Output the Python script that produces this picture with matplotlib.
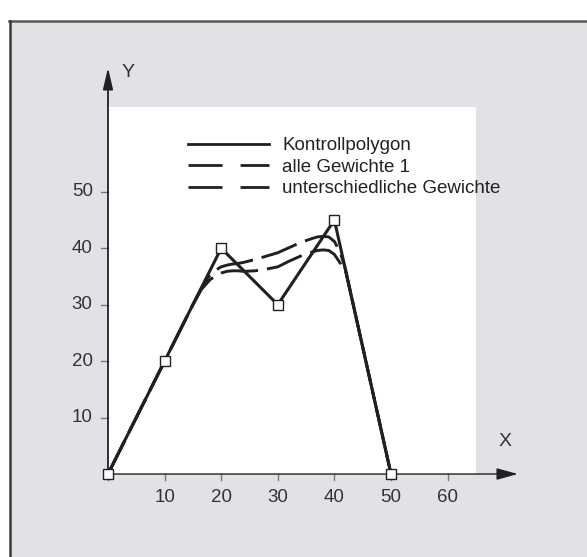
import matplotlib
matplotlib.use('Agg')
import matplotlib.pyplot as plt
from matplotlib.patches import Rectangle
from matplotlib.lines import Line2D

plt.rcParams['font.family'] = ['Liberation Sans', 'DejaVu Sans']
plt.rcParams['lines.scale_dashes'] = False

# ---- Daten ----
poly_x = [0, 10, 20, 30, 40, 50]
poly_y = [0, 20, 40, 30, 45, 0]

# alle Gewichte 1 (obere Kurve)
w1_x = [0, 10, 15, 16.5, 18, 19, 20, 21, 22, 23, 24, 26, 28, 30, 32, 34, 36, 37, 38, 39, 40, 41, 41.8, 45, 50]
w1_y = [0, 20, 30, 32.9, 35.2, 36.1, 36.7, 37.0, 37.2, 37.3, 37.5, 38.0, 38.6, 39.2, 40.1, 41.0, 41.7, 42.0, 42.1, 42.0, 41.2, 39.3, 36.9, 22.5, 0]

# unterschiedliche Gewichte (untere Kurve)
w2_x = [0, 10, 15, 16.5, 18, 19, 20, 21, 22, 23, 24, 26, 28, 30, 32, 34, 36, 37, 38, 39, 40, 41, 42, 45, 50]
w2_y = [0, 20, 30, 32.7, 34.4, 35.1, 35.6, 35.9, 36.0, 36.0, 35.9, 36.0, 36.3, 36.7, 37.7, 38.6, 39.3, 39.6, 39.7, 39.6, 38.9, 37.4, 35.9, 22.5, 0]

x_ticks = [10, 20, 30, 40, 50, 60]
y_ticks = [10, 20, 30, 40, 50]
labels = ['Kontrollpolygon', 'alle Gewichte 1', 'unterschiedliche Gewichte']

ink = '#231f20'
bg = '#e1e2e6'

fig = plt.figure(figsize=(5.87, 5.57), dpi=100)
fig.patch.set_facecolor('white')
# grauer Rahmen
fig.patches.append(Rectangle((0.017, 0), 0.983, 0.961, transform=fig.transFigure,
                             facecolor=bg, edgecolor='none', zorder=-2))
fig.add_artist(Line2D([0.016, 1], [0.9615, 0.9615], color='#5a5a5a', lw=1.8, zorder=-1))
fig.add_artist(Line2D([0.0165, 0.0165], [0, 0.9615], color='#3a3a3a', lw=1.8, zorder=-1))

ax = fig.add_axes([0, 0, 1, 1])
ax.set_zorder(1)
ax.set_facecolor('none')
ax.set_xlim(-19.08, 84.63)
ax.set_ylim(-14.70, 83.97)
ax.axis('off')

# weisse Zeichenflaeche
ax.add_patch(Rectangle((0, 0), 65, 65, facecolor='white', edgecolor='none', zorder=1))

# Achsen mit Pfeilen
ax.annotate('', xy=(72.4, 0), xytext=(0, 0),
            arrowprops=dict(arrowstyle='-|>,head_length=1.3,head_width=0.36', mutation_scale=10,
                            color=ink, lw=1.0, shrinkA=0, shrinkB=0), zorder=3)
ax.annotate('', xy=(0, 72), xytext=(0, 0),
            arrowprops=dict(arrowstyle='-|>,head_length=1.3,head_width=0.3', mutation_scale=10,
                            color=ink, lw=1.3, shrinkA=0, shrinkB=0), zorder=3)
ax.text(3.6, 71.2, 'Y', fontsize=14, color='#333333', ha='center', va='center')
ax.text(70.2, 5.8, 'X', fontsize=14, color='#333333', ha='center', va='center')

# Ticks
for xt in [0] + x_ticks:
    ax.plot([xt, xt], [0, -1.0], color='#777777', lw=1.0, zorder=2)
for xt in x_ticks:
    ax.text(xt, -4.1, str(xt), fontsize=13.5, color='#333333', ha='center', va='center')
for yt in y_ticks:
    ax.plot([-1.25, 0], [yt, yt], color='#777777', lw=1.0, zorder=2)
    ax.text(-2.7, yt, str(yt), fontsize=13.5, color='#333333', ha='right', va='center')

# Kurven
ax.plot(w1_x, w1_y, color=ink, lw=2.1, dashes=(27, 6.5), zorder=4)
ax.plot(w2_x, w2_y, color=ink, lw=2.1, dashes=(27, 6.5), zorder=4)
ax.plot(poly_x, poly_y, color=ink, lw=2.2, zorder=5,
        marker='s', markersize=7.5, markerfacecolor='white', markeredgecolor=ink,
        markeredgewidth=1.0)

# Legende
handles = [Line2D([], [], color=ink, lw=2.0),
           Line2D([], [], color=ink, lw=2.0, dashes=(24.5, 13)),
           Line2D([], [], color=ink, lw=2.0, dashes=(24.5, 13))]
ax.legend(handles, labels, loc='upper left', bbox_to_anchor=(14.1, 59.7),
          bbox_transform=ax.transData, frameon=False, fontsize=13.5,
          handlelength=4.35, handletextpad=0.7, labelspacing=0.24,
          borderpad=0, borderaxespad=0, labelcolor='#222222')

fig.savefig('out.png', dpi=100)
